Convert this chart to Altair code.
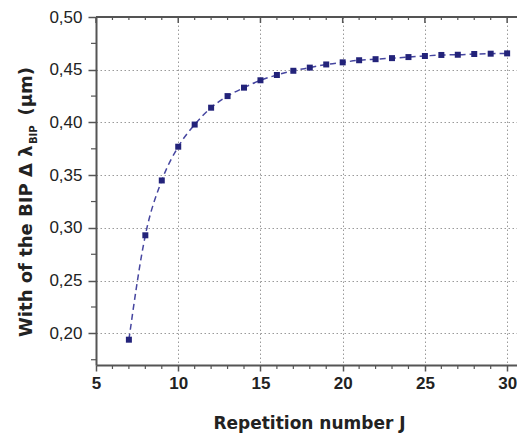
import altair as alt
import pandas as pd

# Measured BIP width against the repetition number J
J = list(range(7, 31))
width_um = [0.194, 0.293, 0.345, 0.377, 0.398, 0.414, 0.425, 0.433, 0.440,
            0.445, 0.449, 0.452, 0.455, 0.457, 0.459, 0.460, 0.461, 0.462,
            0.463, 0.464, 0.4642, 0.4649, 0.4652, 0.4655]

x_major = [5, 10, 15, 20, 25, 30]
x_minor = [v for v in range(6, 30) if v % 5 != 0]
y_major = [0.20, 0.25, 0.30, 0.35, 0.40, 0.45, 0.50]
y_minor = [0.175, 0.225, 0.275, 0.325, 0.375, 0.425, 0.475]

W, H = 421, 348
X_DOMAIN = [5, 30.6]
Y_DOMAIN = [0.17, 0.50]
AXIS_COL = "#555555"
GRID_COL = "#9a9a9a"
LINE_COL = "#4646a0"
MARK_COL = "#23237a"

xs = alt.Scale(domain=X_DOMAIN, nice=False, zero=False)
ys = alt.Scale(domain=Y_DOMAIN, nice=False, zero=False)

df = pd.DataFrame({"J": J, "w": width_um})

x_axis = alt.Axis(
    values=x_major, title="Repetition number J", grid=True,
    gridColor=GRID_COL, gridDash=[1.5, 2.5], gridWidth=1,
    domainColor=AXIS_COL, domainWidth=2, tickColor=AXIS_COL, tickWidth=1.5,
    tickSize=6, labelPadding=4, labelFont="Liberation Sans", labelFontSize=17,
    labelFontWeight="bold", labelColor="#222222", labelFlush=False,
    titleFont="DejaVu Sans", titleFontSize=17, titleFontWeight="bold",
    titleColor="#222222", titlePadding=24, titleX=213,
)
y_axis = alt.Axis(
    values=y_major, title=None, grid=True,
    gridColor=GRID_COL, gridDash=[1.5, 2.5], gridWidth=1,
    domainColor=AXIS_COL, domainWidth=2, tickColor=AXIS_COL, tickWidth=1.5,
    tickSize=8, labelPadding=6, labelFont="Liberation Sans", labelFontSize=17,
    labelColor="#222222", labelFlush=False,
    labelExpr="replace(format(datum.value, '.2f'), '.', ',')",
)

curve = alt.Chart(df).mark_line(
    interpolate="monotone", strokeDash=[6, 4], strokeWidth=1.5, color=LINE_COL
).encode(
    x=alt.X("J:Q", scale=xs, axis=x_axis),
    y=alt.Y("w:Q", scale=ys, axis=y_axis),
)

points = alt.Chart(df).mark_square(size=36, color=MARK_COL, opacity=1).encode(
    x=alt.X("J:Q", scale=xs),
    y=alt.Y("w:Q", scale=ys),
)

# Minor ticks on the bottom and left axes, inward ticks on the top edge
tick_x_minor = pd.DataFrame({"J": x_minor})
tick_x_major = pd.DataFrame({"J": x_major})
tick_y_minor = pd.DataFrame({"w": y_minor})

bottom_minor = alt.Chart(tick_x_minor).mark_rule(color=AXIS_COL, strokeWidth=1.2).encode(
    x=alt.X("J:Q", scale=xs), y=alt.value(H), y2=alt.value(H + 4))
top_minor = alt.Chart(tick_x_minor).mark_rule(color=AXIS_COL, strokeWidth=1.2).encode(
    x=alt.X("J:Q", scale=xs), y=alt.value(0), y2=alt.value(3))
top_major = alt.Chart(tick_x_major).mark_rule(color=AXIS_COL, strokeWidth=1.5).encode(
    x=alt.X("J:Q", scale=xs), y=alt.value(0), y2=alt.value(6))
left_minor = alt.Chart(tick_y_minor).mark_rule(color=AXIS_COL, strokeWidth=1.2).encode(
    y=alt.Y("w:Q", scale=ys), x=alt.value(-5), x2=alt.value(0))
top_edge = alt.Chart(tick_x_major).mark_rule(color=AXIS_COL, strokeWidth=1.5).encode(
    x=alt.value(0), x2=alt.value(W), y=alt.value(0))

# Y title with the subscripted lambda
one = pd.DataFrame({"k": [0]})
title_style = dict(angle=270, font="DejaVu Sans", fontWeight="bold",
                   color="#222222", baseline="alphabetic")
ytitle_main = alt.Chart(one).mark_text(
    text="With of the BIP \u0394 \u03bb", fontSize=18, align="left", **title_style
).encode(x=alt.value(-64), y=alt.value(320))
ytitle_sub = alt.Chart(one).mark_text(
    text="BIP", fontSize=10, align="left", **title_style
).encode(x=alt.value(-59), y=alt.value(127))
ytitle_unit = alt.Chart(one).mark_text(
    text="(\u03bcm)", fontSize=18, align="right", **title_style
).encode(x=alt.value(-64), y=alt.value(50))

chart = alt.layer(
    curve, points, bottom_minor, top_minor, top_major, left_minor, top_edge,
    ytitle_main, ytitle_sub, ytitle_unit,
).properties(
    width=W, height=H,
    autosize=alt.AutoSizeParams(type="none"),
    padding={"left": 96, "top": 17, "right": 0, "bottom": 71},
    background="white",
).configure_view(stroke=None)

chart.save("out.html", embed_options={"renderer": "svg", "actions": False})
